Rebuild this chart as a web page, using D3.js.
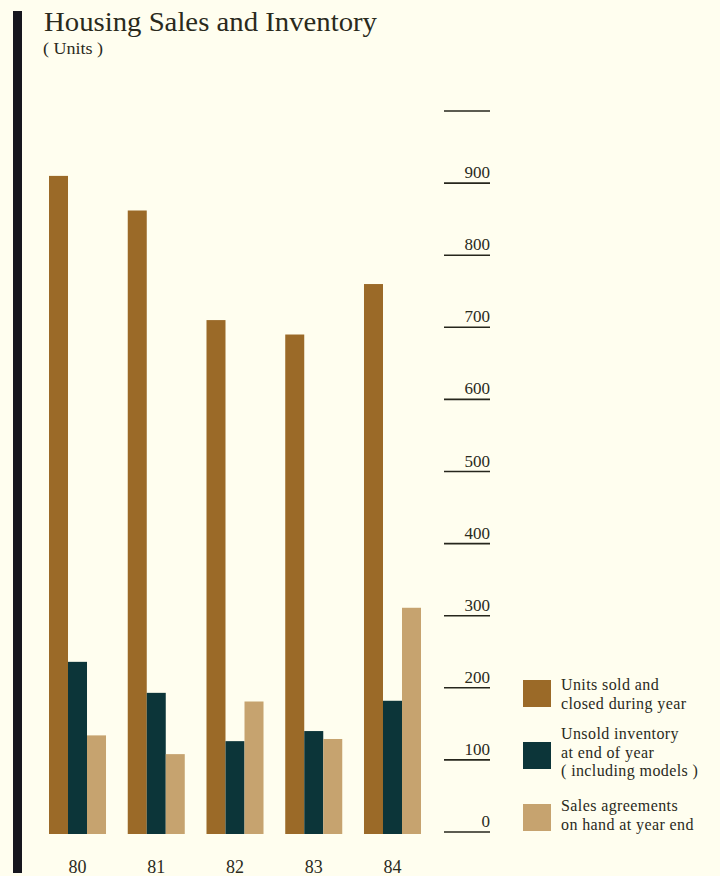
<!DOCTYPE html>
<html>
<head>
<meta charset="utf-8">
<script src="https://cdn.jsdelivr.net/npm/d3@7"></script>
<style>
  html, body { margin: 0; padding: 0; background: #fffeef; }
  svg { display: block; }
  text { font-family: "Liberation Serif", "DejaVu Serif", serif; fill: #2a2a1c; }
</style>
</head>
<body>
<svg id="chart" width="720" height="876"></svg>
<script>
const years = ["80", "81", "82", "83", "84"];
const seriesNames = ["sold", "inventory", "agreements"];
const soldValues = [910, 862, 710, 690, 760];
const inventoryValues = [236, 193, 126, 140, 182];
const agreementValues = [134, 108, 181, 129, 311];
const tickValues = [0, 100, 200, 300, 400, 500, 600, 700, 800, 900, 1000];
const tickLabels = ["0", "100", "200", "300", "400", "500", "600", "700", "800", "900", ""];
const legendLabels = [
  ["Units sold and", "closed during year"],
  ["Unsold inventory", "at end of year", "( including models )"],
  ["Sales agreements", "on hand at year end"]
];
const colors = ["#9b6a28", "#0c3539", "#c6a36f"];

const svg = d3.select("#chart");
svg.append("rect").attr("width", 720).attr("height", 876).attr("fill", "#fffeef");

// left black rule
svg.append("rect").attr("x", 13).attr("y", 11).attr("width", 9).attr("height", 862).attr("fill", "#16161e");

// title
svg.append("text").attr("x", 44).attr("y", 31).attr("font-size", 28)
  .attr("textLength", 333).attr("lengthAdjust", "spacingAndGlyphs")
  .text("Housing Sales and Inventory");
svg.append("text").attr("x", 43).attr("y", 54).attr("font-size", 16)
  .attr("textLength", 60).attr("lengthAdjust", "spacingAndGlyphs")
  .text("( Units )");

const y = d3.scaleLinear().domain([0, 1000]).range([832, 111]);
const x = d3.scaleBand().domain(years).range([49, 421]).paddingInner(0.276).paddingOuter(0);
const xs = d3.scaleBand().domain(seriesNames).range([0, x.bandwidth()]).padding(0);

const data = years.map((yr, i) => ({
  year: yr,
  values: [soldValues[i], inventoryValues[i], agreementValues[i]]
}));

const groups = svg.append("g").selectAll("g").data(data).join("g")
  .attr("transform", d => `translate(${x(d.year)},0)`);
groups.selectAll("rect").data(d => d.values.map((v, k) => ({ v, k })))
  .join("rect")
  .attr("x", d => xs(seriesNames[d.k]))
  .attr("width", xs.bandwidth())
  .attr("y", d => y(d.v))
  .attr("height", d => y(0) + 2 - y(d.v))
  .attr("fill", d => colors[d.k]);

// year labels
svg.append("g").selectAll("text").data(years).join("text")
  .attr("x", d => x(d) + x.bandwidth() / 2)
  .attr("y", 873)
  .attr("text-anchor", "middle")
  .attr("font-size", 18)
  .text(d => d);

// axis ticks (horizontal rules with labels above)
const axis = svg.append("g");
axis.selectAll("line").data(tickValues).join("line")
  .attr("x1", 444).attr("x2", 490)
  .attr("y1", d => y(d)).attr("y2", d => y(d))
  .attr("stroke", "#26261c").attr("stroke-width", 1.6);
axis.selectAll("text").data(tickValues).join("text")
  .attr("x", 490).attr("y", d => y(d) - 5)
  .attr("text-anchor", "end")
  .attr("font-size", 17)
  .text((d, i) => tickLabels[i]);

// legend
const swatchTop = [680, 742, 804];
const textTop = [690, 739, 811];
const lg = svg.append("g").selectAll("g").data(legendLabels).join("g");
lg.append("rect")
  .attr("x", 523).attr("y", (d, i) => swatchTop[i])
  .attr("width", 28).attr("height", 27)
  .attr("fill", (d, i) => colors[i]);
lg.each(function(lines, i) {
  d3.select(this).selectAll("text").data(lines).join("text")
    .attr("x", 561)
    .attr("y", (d, j) => textTop[i] + j * 18.6)
    .attr("font-size", 16)
    .attr("letter-spacing", 0.4)
    .text(d => d);
});
</script>
</body>
</html>
